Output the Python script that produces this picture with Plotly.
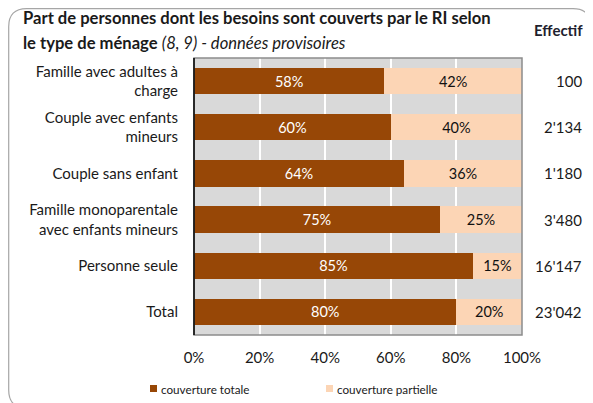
import plotly.graph_objects as go

categories = ["Famille avec adultes à<br>charge", "Couple avec enfants<br>mineurs", "Couple sans enfant",
              "Famille monoparentale<br>avec enfants mineurs", "Personne seule", "Total"]
couverture_totale = [58, 60, 64, 75, 85, 80]
couverture_partielle = [42, 40, 36, 25, 15, 20]
effectif = [100, 2134, 1180, 3480, 16147, 23042]
series_names = ["couverture totale", "couverture partielle"]
x_ticks = [0, 20, 40, 60, 80, 100]
x_ticklabels = ["0%", "20%", "40%", "60%", "80%", "100%"]

OFF = 8  # page body margin
W, H = 593 - OFF, 403 - OFF
ML, MR, MT, MB = 194 - OFF, 71, 58 - OFF, 68
PW, PH = W - ML - MR, H - MT - MB

def px(x):
    return (x - OFF - ML) / PW

def py(y):
    return (H - MB - (y - OFF)) / PH

FONT = "Lato"
BROWN = "#974706"
PEACH = "#FCD5B5"
COLORS = [BROWN, PEACH]

fig = go.Figure()
fig.add_trace(go.Bar(
    y=categories, x=couverture_totale, orientation="h", name=series_names[0],
    marker=dict(color=BROWN, line=dict(width=0)), width=0.57,
    text=[f"{v}%" for v in couverture_totale], textposition="inside", insidetextanchor="middle",
    textfont=dict(color="white", size=14.5, family=FONT), hoverinfo="skip"))
fig.add_trace(go.Bar(
    y=categories, x=couverture_partielle, orientation="h", name=series_names[1],
    marker=dict(color=PEACH, line=dict(width=0)), width=0.57,
    text=[f"{v}%" for v in couverture_partielle], textposition="inside", insidetextanchor="middle",
    textfont=dict(color="#111111", size=14.5, family=FONT), hoverinfo="skip"))

annotations = []
for c, e in zip(categories, effectif):
    annotations.append(dict(x=px(584), xref="paper", y=c, yref="y", text=f"{e:,}".replace(",", "'"),
                            showarrow=False, xanchor="right", yanchor="middle",
                            font=dict(size=15, color="#1a1a1a", family=FONT)))
annotations.append(dict(x=px(585), xref="paper", y=py(30), yref="paper", text="<b>Effectif</b>",
                        showarrow=False, xanchor="right", yanchor="middle",
                        font=dict(size=15, color="#1f1f2f", family=FONT)))
annotations.append(dict(x=px(21), xref="paper", y=py(18), yref="paper",
                        text="<b>Part de personnes dont les besoins sont couverts par le RI selon</b>",
                        showarrow=False, xanchor="left", yanchor="middle",
                        font=dict(size=16.6, color="#1a1a1a", family=FONT)))
annotations.append(dict(x=px(21), xref="paper", y=py(43), yref="paper",
                        text="<b>le type de ménage</b> <i>(8, 9) - données provisoires</i>",
                        showarrow=False, xanchor="left", yanchor="middle",
                        font=dict(size=16.6, color="#1a1a1a", family=FONT)))

# legend (manual placement)
legend_x = [150, 326]
shapes = []
for lx, name, col in zip(legend_x, series_names, COLORS):
    shapes.append(dict(type="rect", xref="paper", yref="paper", x0=px(lx), x1=px(lx + 7),
                       y0=py(392), y1=py(385), fillcolor=col, line=dict(width=0)))
    annotations.append(dict(x=px(lx + 9), xref="paper", y=py(388.5), yref="paper", text=name,
                            showarrow=False, xanchor="left", yanchor="middle",
                            font=dict(size=11.7, color="#1a1a1a", family=FONT)))

# rounded outer frame
r = 18
x0, y0, x1, y1 = 8.7, 8.7, 591, 408
pts = [
    f"M {px(x0 + r)},{py(y0)}", f"L {px(x1 - r)},{py(y0)}",
    f"Q {px(x1)},{py(y0)} {px(x1)},{py(y0 + r)}", f"L {px(x1)},{py(y1 - r)}",
    f"Q {px(x1)},{py(y1)} {px(x1 - r)},{py(y1)}", f"L {px(x0 + r)},{py(y1)}",
    f"Q {px(x0)},{py(y1)} {px(x0)},{py(y1 - r)}", f"L {px(x0)},{py(y0 + r)}",
    f"Q {px(x0)},{py(y0)} {px(x0 + r)},{py(y0)}", "Z"]
shapes += [
    dict(type="path", xref="paper", yref="paper", path=" ".join(pts),
         line=dict(color="#A6A6A6", width=1.2), layer="above"),
    dict(type="rect", xref="paper", yref="paper", x0=0, x1=1, y0=0, y1=1,
         line=dict(color="#8C8C8C", width=1.5), layer="above"),
    dict(type="line", xref="paper", yref="paper", x0=0, x1=0, y0=0, y1=1,
         line=dict(color="#000000", width=1.5), layer="above"),
]

fig.update_layout(
    width=W, height=H, margin=dict(l=ML, r=MR, t=MT, b=MB, autoexpand=False),
    barmode="stack", bargap=0.43,
    paper_bgcolor="white", plot_bgcolor="#D9D9D9",
    font=dict(family=FONT, color="#1a1a1a"),
    showlegend=False,
    annotations=annotations, shapes=shapes,
)
fig.update_xaxes(range=[0, 100], tickvals=x_ticks, ticktext=x_ticklabels,
                 showgrid=True, gridcolor="white", gridwidth=1.5, zeroline=False,
                 ticks="outside", ticklen=9, tickcolor="rgba(0,0,0,0)",
                 tickfont=dict(size=15, family=FONT, color="#1a1a1a"), fixedrange=True)
fig.update_yaxes(autorange="reversed", showgrid=False,
                 ticks="outside", ticklen=12, tickcolor="rgba(0,0,0,0)",
                 tickfont=dict(size=15, family=FONT, color="#1a1a1a"), fixedrange=True)

fig.write_html("out.html")
